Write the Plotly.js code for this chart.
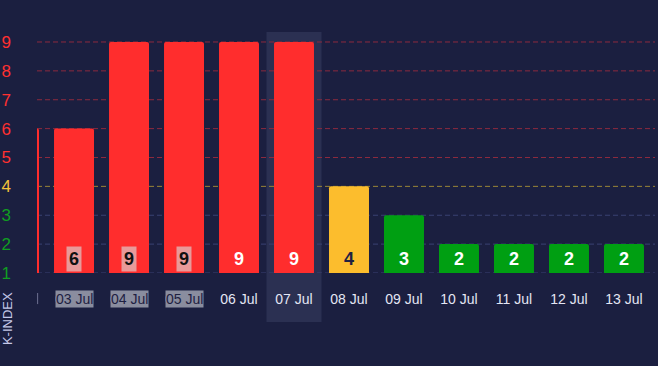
<!DOCTYPE html>
<html><head><meta charset="utf-8">
<script src="https://cdn.plot.ly/plotly-3.0.1.min.js"></script>
<style>html,body{margin:0;padding:0;background:#1b1f40;}#chart{width:658px;height:366px;}</style>
</head><body><div id="chart"></div>
<script>
// Data
const days = ["02 Jul","03 Jul","04 Jul","05 Jul","06 Jul","07 Jul","08 Jul","09 Jul","10 Jul","11 Jul","12 Jul","13 Jul"];
const kIndex = [6, 6, 9, 9, 9, 9, 4, 3, 2, 2, 2, 2];
const levels = [1,2,3,4,5,6,7,8,9];
const highlightedDays = ["02 Jul","03 Jul","04 Jul","05 Jul"];   // gray-boxed labels
const selectedDay = "07 Jul";

const RED = "#ff2d2d", YEL = "#fcbd2d", GRN = "#009f12";
function barColor(v){ return v >= 5 ? RED : (v === 4 ? YEL : GRN); }
function tickColor(v){ return v >= 5 ? "#ff3030" : (v === 4 ? "#f2c23a" : "#109e22"); }
function gridColor(v){ return v >= 5 ? "#8c2a3e" : (v === 4 ? "#9a8536" : "#3a4172"); }
function textColor(v){ return v === 4 ? "#1e2142" : "#ffffff"; }

const trace = {
  type: "bar", x: days, y: kIndex, base: 0,
  marker: {color: kIndex.map(barColor), line: {width: 0}, cornerradius: 2},
  width: 0.727, hoverinfo: "none", cliponaxis: true
};

const shapes = [];
const selIdx = days.indexOf(selectedDay);
shapes.push({type:"rect", xref:"x", yref:"paper", x0: selIdx-0.5, x1: selIdx+0.5, y0:-0.203, y1:1,
  fillcolor:"#2b3052", line:{width:0}, layer:"below"});
levels.forEach(v => shapes.push({type:"line", xref:"paper", yref:"y", x0:0, x1:1, y0:v, y1:v,
  line:{color: gridColor(v), width:1, dash:"5px,3px"}, layer:"below"}));
shapes.push({type:"line", xref:"paper", yref:"paper", x0:0.001, x1:0.001, y0:-0.083, y1:-0.129,
  line:{color:"#6c7090", width:1}});

const annotations = [];
days.forEach((d, i) => {
  if (i === 0) return;
  const v = kIndex[i];
  const hl = highlightedDays.includes(d);
  annotations.push({xref:"x", yref:"y", x:d, y:1, yanchor:"bottom", yshift:1, showarrow:false,
    text:"<b>"+v+"</b>", font:{family:"Liberation Sans, Arial, sans-serif", size:18, color: hl ? "#111111" : textColor(v)},
    bgcolor: hl ? "#e89a9a" : "rgba(0,0,0,0)", borderpad:2});
  if (hl) annotations.push({xref:"x", yref:"paper", x:d, y:-0.1079, yanchor:"middle", showarrow:false,
    text:d, font:{family:"Liberation Sans, Arial, sans-serif", size:14, color:"#1e2142"},
    bgcolor:"#8a8d9f", borderpad:0});
});
annotations.push({xref:"paper", yref:"paper", x:-0.0485, y:-0.191, xanchor:"center", yanchor:"middle",
  textangle:-90, showarrow:false, text:"K-INDEX",
  font:{family:"Liberation Sans, Arial, sans-serif", size:13, color:"#c5c8e8"}});

const layout = {
  width: 658, height: 366,
  margin: {l:37, r:3, t:32, b:93, pad:0},
  paper_bgcolor: "#1b1f40", plot_bgcolor: "#1b1f40",
  showlegend: false, bargap: 0.27,
  font: {family:"Liberation Sans, Arial, sans-serif", color:"#e4e6f4"},
  xaxis: {type:"category", range:[0.327, 11.564], showgrid:false, zeroline:false, showline:false,
    ticks:"", tickfont:{size:14, color:"#e4e6f4"}, ticklabelstandoff: 16, fixedrange:true},
  yaxis: {range:[1, 9.346], showgrid:false, zeroline:false, showline:false, ticks:"",
    tickvals: levels, ticktext: levels.map(v => '<span style="color:'+tickColor(v)+'">'+v+'</span>'),
    tickfont:{size:17}, ticklabelstandoff: 25, fixedrange:true},
  shapes: shapes, annotations: annotations
};
Plotly.newPlot("chart", [trace], layout, {staticPlot:true, displayModeBar:false});
</script></body></html>
